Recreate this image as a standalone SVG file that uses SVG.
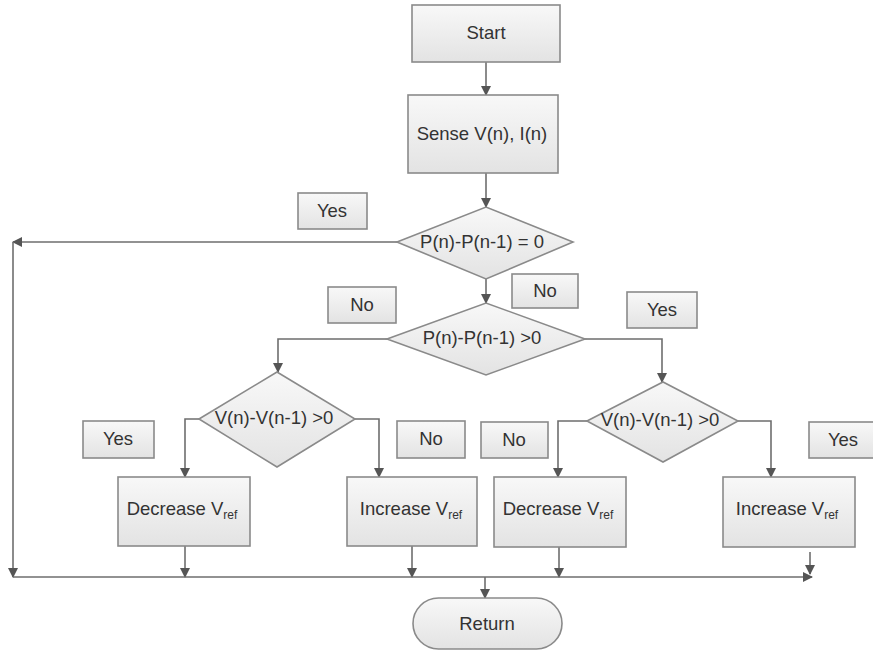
<svg xmlns="http://www.w3.org/2000/svg" width="873" height="651" viewBox="0 0 873 651">
<defs>
<linearGradient id="g" x1="0" y1="0" x2="0" y2="1"><stop offset="0" stop-color="#f8f8f8"/><stop offset="1" stop-color="#e3e3e3"/></linearGradient>
<marker id="ah" markerWidth="10" markerHeight="10" refX="9" refY="5" orient="auto" markerUnits="userSpaceOnUse"><path d="M0,0 L10,5 L0,10 Z" fill="#555"/></marker>
<style>
.n{fill:url(#g);stroke:#8a8a8a;stroke-width:1.6}
.t{font-family:"Liberation Sans",Arial,sans-serif;font-size:18.5px;fill:#333;text-anchor:middle}
.s{font-size:12px}
.c{fill:none;stroke:#6e6e6e;stroke-width:1.6;marker-end:url(#ah)}
</style>
</defs>
<rect width="873" height="651" fill="#fff"/>
<g id="connectors">
<path class="c" d="M486,62 V95"/>
<path class="c" d="M486,173 V207"/>
<path class="c" d="M397,242 H13"/>
<path class="c" d="M13,242 V577"/>
<path class="c" d="M486,279 V303"/>
<path class="c" d="M387,339 H278 V372"/>
<path class="c" d="M585,339 H662 V382"/>
<path class="c" d="M199,419 H185 V477"/>
<path class="c" d="M355,419 H379 V477"/>
<path class="c" d="M738,421 H771 V477"/>
<path class="c" d="M587,421 H558 V477"/>
<path class="c" d="M185,546 V577"/>
<path class="c" d="M412,546 V577"/>
<path class="c" d="M559,547 V577"/>
<path class="c" d="M810,552 V574"/>
<path class="c" d="M13,577 H812"/>
<path class="c" d="M485,577 V598"/>
</g>
<g id="start"><rect class="n" x="412" y="5" width="148" height="57"/><text class="t" x="486" y="39">Start</text></g>
<g id="sense"><rect class="n" x="408" y="95" width="150" height="78"/><text class="t" x="482" y="140">Sense V(n), I(n)</text></g>
<g id="d1"><polygon class="n" points="397,242 486,207 573,242 486,279"/><text class="t" x="482" y="248">P(n)-P(n-1) = 0</text></g>
<g id="d2"><polygon class="n" points="387,339 486,303 585,339 486,375"/><text class="t" x="482" y="344">P(n)-P(n-1) &gt;0</text></g>
<g id="d3"><polygon class="n" points="199,419 277,372 355,419 277,467"/><text class="t" x="274" y="424">V(n)-V(n-1) &gt;0</text></g>
<g id="d4"><polygon class="n" points="587,421 663,382 738,421 663,462"/><text class="t" x="660" y="426">V(n)-V(n-1) &gt;0</text></g>
<g id="dec1"><rect class="n" x="118" y="477" width="132" height="69"/><text class="t" x="182" y="515">Decrease V<tspan class="s" dy="4">ref</tspan></text></g>
<g id="inc1"><rect class="n" x="347" y="477" width="130" height="69"/><text class="t" x="411" y="515">Increase V<tspan class="s" dy="4">ref</tspan></text></g>
<g id="dec2"><rect class="n" x="494" y="477" width="132" height="70"/><text class="t" x="558" y="515">Decrease V<tspan class="s" dy="4">ref</tspan></text></g>
<g id="inc2"><rect class="n" x="723" y="477" width="132" height="70"/><text class="t" x="787" y="515">Increase V<tspan class="s" dy="4">ref</tspan></text></g>
<g id="ret"><rect class="n" x="413" y="598" width="149" height="51" rx="25.5"/><text class="t" x="487" y="630">Return</text></g>
<g id="lbl-yes1"><rect class="n" x="298" y="193" width="69" height="36"/><text class="t" x="332" y="217">Yes</text></g>
<g id="lbl-no1"><rect class="n" x="512" y="274" width="66" height="34"/><text class="t" x="545" y="297">No</text></g>
<g id="lbl-no2"><rect class="n" x="328" y="287" width="68" height="36"/><text class="t" x="362" y="311">No</text></g>
<g id="lbl-yes2"><rect class="n" x="627" y="292" width="70" height="36"/><text class="t" x="662" y="316">Yes</text></g>
<g id="lbl-yes3"><rect class="n" x="83" y="421" width="71" height="37"/><text class="t" x="118" y="445">Yes</text></g>
<g id="lbl-no3"><rect class="n" x="397" y="421" width="68" height="37"/><text class="t" x="431" y="445">No</text></g>
<g id="lbl-no4"><rect class="n" x="481" y="422" width="67" height="36"/><text class="t" x="514" y="446">No</text></g>
<g id="lbl-yes4"><rect class="n" x="809" y="422" width="66" height="36"/><text class="t" x="843" y="446">Yes</text></g>
</svg>
